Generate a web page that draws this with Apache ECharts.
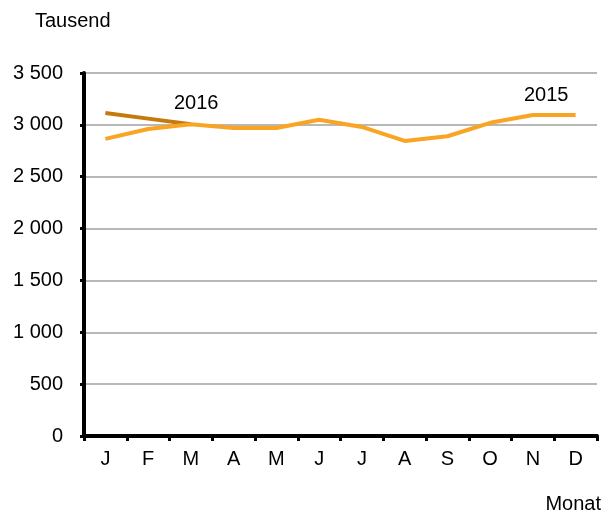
<!DOCTYPE html>
<html>
<head>
<meta charset="utf-8">
<script src="https://cdn.jsdelivr.net/npm/echarts@6/dist/echarts.min.js"></script>
<style>
  html, body { margin: 0; padding: 0; background: #fff; }
  #main { width: 608px; height: 517px; }
</style>
</head>
<body>
<div id="main"></div>
<script>
const months = ["J", "F", "M", "A", "M", "J", "J", "A", "S", "O", "N", "D"];
const values2015 = [2865, 2960, 3005, 2970, 2970, 3050, 2980, 2845, 2890, 3020, 3095, 3095];
const values2016 = [3115, 3060, 3005];

let chartDom = document.getElementById("main");
let myChart = echarts.init(chartDom);
let option;

const font = "Liberation Sans, Arial, sans-serif";

option = {
  animation: false,
  textStyle: { fontFamily: font },
  grid: {
    left: 84,
    right: 11,
    top: 73,
    bottom: 81,
  },
  xAxis: {
    type: "category",
    data: months,
    boundaryGap: true,
    axisLine: { lineStyle: { color: "#000", width: 4 } },
    axisTick: { show: true, length: 5, lineStyle: { color: "#000", width: 3 } },
    axisLabel: { color: "#000", fontSize: 20, margin: 13, fontFamily: font },
  },
  yAxis: {
    type: "value",
    min: 0,
    max: 3500,
    interval: 500,
    axisLine: { show: true, lineStyle: { color: "#000", width: 4 } },
    axisTick: { show: true, length: 4, lineStyle: { color: "#000", width: 3 } },
    axisLabel: {
      color: "#000",
      fontSize: 20,
      margin: 21,
      fontFamily: font,
      formatter: function (v) {
        return v >= 1000 ? Math.floor(v / 1000) + " " + String(v % 1000).padStart(3, "0") : String(v);
      },
    },
    splitLine: { show: true, lineStyle: { color: "#a0a0a0", width: 1.5 } },
  },
  graphic: [
    { type: "text", left: 35, top: 11, style: { text: "Tausend", font: "20px " + font, fill: "#000" } },
    { type: "text", right: 7, top: 494, style: { text: "Monat", font: "20px " + font, fill: "#000" } },
    { type: "text", left: 174, top: 93, style: { text: "2016", font: "20px " + font, fill: "#000" } },
    { type: "text", left: 524, top: 85, style: { text: "2015", font: "20px " + font, fill: "#000" } },
  ],
  series: [
    {
      name: "2016",
      type: "line",
      data: values2016,
      symbol: "none",
      lineStyle: { color: "#C47A0C", width: 4 },
      z: 2,
    },
    {
      name: "2015",
      type: "line",
      data: values2015,
      symbol: "none",
      lineStyle: { color: "#F9A422", width: 4 },
      z: 3,
    },
  ],
};

option && myChart.setOption(option);
</script>
</body>
</html>
